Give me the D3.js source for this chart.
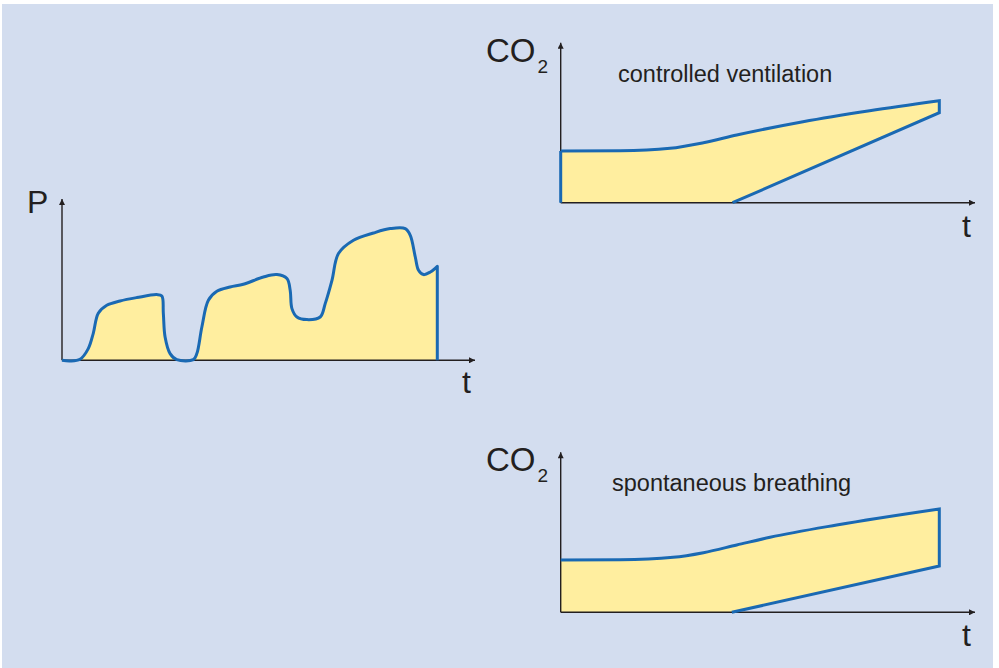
<!DOCTYPE html>
<html>
<head>
<meta charset="utf-8">
<script src="https://cdn.jsdelivr.net/npm/d3@7"></script>
<style>
  html, body { margin: 0; padding: 0; background: #ffffff; }
  svg { display: block; }
  text { font-family: "Liberation Sans", Arial, Helvetica, sans-serif; fill: #231f20; }
</style>
</head>
<body>
<svg id="chart" width="999" height="668"></svg>
<script>
// ---- Data (schematic units) ----
// Airway pressure over time (controlled breaths)
const pressureTime = [0, 0.64, 1.44, 2.1, 2.5, 2.9, 3.58, 4.64, 5.98, 7.58, 7.98, 8.1, 8.24, 8.64, 9.18,
  10.5, 10.78, 11.18, 11.7, 12.38, 13.44, 14.5, 16.1, 17.18, 17.98, 18.24, 18.38, 18.78, 19.58, 20.64,
  21.04, 21.58, 22.1, 23.3, 24.9, 26.24, 27.44, 27.84, 28.24, 28.5, 28.9, 29.44, 30];
const pressureValue = [0, -0.07, 0.1, 1.17, 2.7, 4.7, 5.5, 5.93, 6.27, 6.57, 6.43, 4.7, 2.33, 0.67, 0.07,
  0.07, 0.67, 3.33, 6.0, 6.9, 7.33, 7.6, 8.33, 8.57, 8.17, 7.0, 5.17, 4.33, 4.07, 4.33,
  5.67, 8.0, 10.67, 12.0, 12.73, 13.17, 13.17, 12.5, 10.33, 9.0, 8.57, 8.83, 9.4];

// CO2 — controlled ventilation
const cvUpperTime  = [0, 1.57, 2.89, 3.77, 4.65, 6.4, 8.16, 10];
const cvUpperValue = [5.17, 5.2, 5.44, 6.0, 6.77, 8.1, 9.2, 10.2];
const cvLowerTime  = [4.54, 10];
const cvLowerValue = [0, 9.0];

// CO2 — spontaneous breathing
const sbUpperTime  = [0, 1.57, 2.97, 3.77, 4.65, 5.53, 7.29, 10];
const sbUpperValue = [5.23, 5.26, 5.5, 5.96, 6.73, 7.5, 8.73, 10.33];
const sbLowerTime  = [4.52, 10];
const sbLowerValue = [0, 4.63];

// Labels
const axisLabelP = "P";
const axisLabelT = "t";
const axisLabelCO = "CO";
const axisLabelSub = "2";
const titleCV = "controlled ventilation";
const titleSB = "spontaneous breathing";

// ---- Styles ----
const BG = "#d3ddef";
const FILL = "#ffee9f";
const BLUE = "#1a69b3";
const AXIS = "#231f20";

const svg = d3.select("#chart");
svg.append("rect").attr("x", 2).attr("y", 4).attr("width", 991).attr("height", 664).attr("fill", BG);

const defs = svg.append("defs");
defs.append("marker").attr("id", "arrow").attr("viewBox", "0 0 10 10")
  .attr("refX", 10).attr("refY", 5).attr("markerWidth", 10).attr("markerHeight", 6)
  .attr("markerUnits", "userSpaceOnUse").attr("orient", "auto")
  .append("path").attr("d", "M0,0 L10,5 L0,10 Z").attr("fill", AXIS);

function drawAxes(g, x0, y0, xEnd, yTop) {
  g.append("line").attr("x1", x0).attr("y1", y0).attr("x2", xEnd).attr("y2", y0)
    .attr("stroke", AXIS).attr("stroke-width", 1.4).attr("marker-end", "url(#arrow)");
  g.append("line").attr("x1", x0).attr("y1", y0).attr("x2", x0).attr("y2", yTop)
    .attr("stroke", AXIS).attr("stroke-width", 1.4).attr("marker-end", "url(#arrow)");
}

// ---------- Pressure chart ----------
{
  const x = d3.scaleLinear().domain([0, 30]).range([62, 437.3]);
  const y = d3.scaleLinear().domain([0, 16]).range([360.3, 200.3]);
  const pts = pressureTime.map((t, i) => [t, pressureValue[i]]);
  const g = svg.append("g");
  const area = d3.area().x(d => x(d[0])).y0(y(0)).y1(d => y(d[1])).curve(d3.curveCatmullRom.alpha(0.5));
  g.append("path").attr("d", area(pts)).attr("fill", FILL);
  drawAxes(g, x(0), y(0), 475, 199);
  const line = d3.line().x(d => x(d[0])).y(d => y(d[1])).curve(d3.curveCatmullRom.alpha(0.5));
  const last = pts[pts.length - 1];
  g.append("path").attr("d", line(pts) + "L" + x(last[0]) + "," + y(0))
    .attr("fill", "none").attr("stroke", BLUE).attr("stroke-width", 3).attr("stroke-linejoin", "round");
  g.append("text").attr("x", 27).attr("y", 213).attr("font-size", 32).text(axisLabelP);
  g.append("text").attr("x", 462).attr("y", 393).attr("font-size", 32).text(axisLabelT);
}

// ---------- CO2 charts ----------
function co2Chart(baseY, upT, upV, loT, loV, title, titleX, leftEdgeBlue) {
  const x = d3.scaleLinear().domain([0, 10]).range([560.7, 939.3]);
  const y = d3.scaleLinear().domain([0, 10]).range([baseY, baseY - 100]);
  const upper = upT.map((t, i) => [t, upV[i]]);
  const lower = loT.map((t, i) => [t, loV[i]]);
  const curve = d3.curveMonotoneX;
  const upperLine = d3.line().x(d => x(d[0])).y(d => y(d[1])).curve(curve);
  const lowerPts = [[0, 0]].concat(lower);
  const g = svg.append("g");
  // filled region: upper curve forward, lower boundary backward
  const upPath = upperLine(upper);
  const back = lowerPts.slice().reverse().map(d => "L" + x(d[0]) + "," + y(d[1])).join("");
  g.append("path").attr("d", upPath + back + "Z").attr("fill", FILL);
  drawAxes(g, x(0), y(0), 975, baseY - 160);
  // blue outline
  const ll = lower[lower.length - 1];
  g.append("path").attr("d", upPath + "L" + x(ll[0]) + "," + y(ll[1]) + "L" + x(lower[0][0]) + "," + y(lower[0][1]))
    .attr("fill", "none").attr("stroke", BLUE).attr("stroke-width", 3).attr("stroke-linejoin", "miter");
  if (leftEdgeBlue) {
    g.append("line").attr("x1", x(0)).attr("y1", y(0)).attr("x2", x(0)).attr("y2", y(upper[0][1]))
      .attr("stroke", BLUE).attr("stroke-width", 3);
  }
  const lab = g.append("text").attr("x", 486).attr("y", baseY - 141).attr("font-size", 33);
  lab.append("tspan").text(axisLabelCO);
  lab.append("tspan").attr("font-size", 19).attr("dx", 2).attr("dy", 11).text(axisLabelSub);
  g.append("text").attr("x", 962).attr("y", baseY + 34).attr("font-size", 32).text(axisLabelT);
  g.append("text").attr("x", titleX).attr("y", baseY - 121).attr("font-size", 23.5).text(title);
}

co2Chart(202.7, cvUpperTime, cvUpperValue, cvLowerTime, cvLowerValue, titleCV, 618, true);
co2Chart(612.3, sbUpperTime, sbUpperValue, sbLowerTime, sbLowerValue, titleSB, 612, false);
</script>
</body>
</html>
